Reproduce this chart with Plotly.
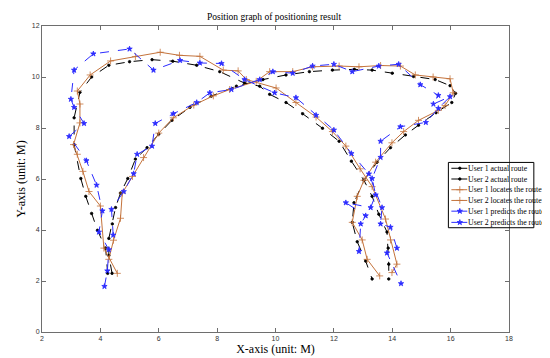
import plotly.graph_objects as go

# ---- data (X, Y in metres) ----
u1_actual_x = [4.25, 4.18, 3.90, 3.70, 3.50, 3.33, 3.10, 3.10, 3.30, 3.70, 4.29, 5.00, 5.77, 6.48, 7.30, 8.09, 8.94, 9.46, 9.80, 10.36, 10.93, 11.61, 12.18, 12.60, 13.03, 13.31, 13.54, 13.82, 13.86, 13.88, 13.88]
u1_actual_y = [2.30, 3.29, 3.99, 4.65, 5.32, 6.02, 7.35, 8.40, 9.40, 10.00, 10.46, 10.60, 10.68, 10.62, 10.46, 10.21, 9.76, 9.64, 9.32, 9.00, 8.56, 7.99, 7.48, 6.70, 5.95, 5.32, 4.62, 3.92, 3.29, 2.66, 2.08]

u2_actual_x = [4.40, 4.29, 4.29, 4.41, 4.52, 4.69, 4.94, 5.20, 5.60, 6.00, 6.45, 7.07, 7.80, 8.66, 9.57, 10.36, 11.16, 11.95, 12.70, 13.31, 14.00, 14.73, 15.47, 15.98, 16.17, 16.04, 15.50, 14.90, 14.45, 13.94, 13.48, 13.03, 12.69, 12.63, 12.80, 13.09, 13.31]
u2_actual_y = [2.30, 3.00, 3.67, 4.24, 4.88, 5.45, 6.02, 6.78, 7.23, 7.76, 8.30, 8.81, 9.25, 9.64, 9.90, 10.08, 10.21, 10.27, 10.30, 10.27, 10.15, 10.02, 9.90, 9.66, 9.36, 9.00, 8.60, 8.11, 7.73, 7.23, 6.66, 5.95, 5.07, 4.30, 3.54, 2.78, 2.08]

u1_locate_x = [4.58, 4.12, 4.00, 3.61, 3.40, 3.21, 3.08, 3.30, 3.30, 3.21, 3.65, 4.35, 5.20, 6.05, 6.71, 7.41, 8.21, 8.72, 9.00, 10.02, 10.70, 11.39, 11.95, 12.41, 12.90, 13.31, 13.77, 13.94, 14.16, 13.99]
u1_locate_y = [2.30, 3.29, 4.94, 5.51, 6.30, 6.97, 7.35, 8.20, 8.94, 9.45, 10.08, 10.63, 10.80, 10.97, 10.85, 10.81, 10.27, 10.24, 9.90, 9.57, 9.00, 8.43, 7.86, 7.29, 6.40, 5.70, 4.43, 3.61, 2.66, 2.33]

u2_locate_x = [4.29, 4.45, 4.69, 4.75, 5.10, 5.48, 6.00, 6.50, 7.20, 7.87, 8.43, 9.34, 9.80, 10.59, 11.27, 12.18, 12.86, 13.60, 14.28, 14.79, 15.40, 15.98, 16.09, 15.81, 15.58, 14.90, 14.39, 13.99, 13.43, 13.03, 12.80, 12.63, 12.97, 13.14, 13.57]
u2_locate_y = [2.85, 3.60, 4.46, 5.45, 6.10, 6.84, 7.80, 8.40, 8.90, 9.26, 9.51, 9.83, 10.21, 10.21, 10.40, 10.43, 10.40, 10.45, 10.43, 10.08, 10.00, 9.93, 9.38, 8.88, 8.69, 8.30, 7.86, 7.42, 6.66, 5.95, 5.32, 4.30, 3.61, 2.85, 2.20]

u1_predict_x = [4.14, 4.24, 4.29, 3.95, 4.07, 3.87, 3.52, 2.93, 3.44, 3.10, 2.99, 3.10, 3.76, 5.00, 5.82, 6.73, 7.41, 8.15, 8.94, 9.97, 10.70, 11.39, 12.00, 12.60, 13.20, 13.65, 13.60, 13.94, 14.16, 13.82, 14.30]
u1_predict_y = [1.79, 2.40, 3.23, 3.92, 4.75, 5.76, 6.72, 7.67, 8.18, 8.81, 9.13, 10.27, 10.91, 11.10, 10.27, 10.65, 10.55, 10.53, 9.90, 9.38, 9.19, 8.50, 7.92, 7.00, 6.20, 4.88, 4.24, 4.11, 3.29, 3.10, 1.90]

u2_predict_x = [4.44, 4.38, 4.80, 5.14, 5.26, 5.77, 5.88, 6.50, 7.30, 7.75, 8.49, 9.46, 9.91, 10.59, 11.27, 12.00, 12.63, 13.54, 14.22, 14.96, 15.58, 15.41, 15.98, 15.58, 15.15, 14.28, 13.60, 13.60, 13.31, 13.43, 13.26, 12.41, 13.09, 12.92, 12.86]
u2_predict_y = [3.80, 4.81, 5.51, 6.21, 6.97, 7.29, 8.18, 8.56, 9.00, 9.38, 9.51, 9.90, 10.21, 10.15, 10.43, 10.50, 10.21, 10.43, 10.50, 9.70, 9.28, 8.94, 9.23, 8.77, 8.22, 8.05, 7.48, 6.85, 6.02, 5.38, 4.88, 5.07, 4.56, 4.24, 3.16]

names = ["User 1 actual route", "User 2 actual route",
         "User 1 locates the route", "User 2 locates the route",
         "User 1 predicts the route", "User 2 predicts the route"]
x_ticks = [2, 4, 6, 8, 10, 12, 14, 16, 18]
y_ticks = [0, 2, 4, 6, 8, 10, 12]

BLACK = "#000000"
ORANGE = "#c4733c"
BLUE = "#2b2bff"

styles = [
    (BLACK, "dash", "circle", 2.5),
    (BLACK, "dash", "circle", 2.5),
    (ORANGE, "solid", "cross-thin-open", 5),
    (ORANGE, "solid", "cross-thin-open", 5),
    (BLUE, "dash", "star", 4),
    (BLUE, "dash", "star", 4),
]
data = [(u1_actual_x, u1_actual_y), (u2_actual_x, u2_actual_y),
        (u1_locate_x, u1_locate_y), (u2_locate_x, u2_locate_y),
        (u1_predict_x, u1_predict_y), (u2_predict_x, u2_predict_y)]

# plot area in pixels
W, H = 550, 358
L, R, T, B = 31, 501, 18, 332


def px(xp):
    return (xp - L) / (R - L)


def py(yp):
    return (B - yp) / (B - T)


fig = go.Figure()
for (xs, ys), (col, dash, sym, sz), nm in zip(data, styles, names):
    fig.add_trace(go.Scatter(
        x=xs, y=ys, mode="lines+markers", name=nm, showlegend=False,
        line=dict(color=col, width=1, dash=dash),
        marker=dict(symbol=sym, size=sz, color=col, line=dict(color=col, width=0.8)),
    ))

# ---- compact legend, drawn on an overlay subplot in paper fractions ----
box_l, box_r, box_t, box_b = 440, 526, 158, 225
row_y = [164, 175, 186, 197, 208, 219.5]
fig.add_trace(go.Scatter(
    x=[px(box_l), px(R), px(R), px(box_l), px(box_l)],
    y=[py(box_t), py(box_t), py(box_b), py(box_b), py(box_t)],
    mode="lines", fill="toself", fillcolor="white", line=dict(width=0),
    xaxis="x2", yaxis="y2", showlegend=False, hoverinfo="skip"))
for (col, dash, sym, sz), ry in zip(styles, row_y):
    fig.add_trace(go.Scatter(
        x=[px(443), px(459)], y=[py(ry), py(ry)], mode="lines",
        line=dict(color=col, width=1), xaxis="x2", yaxis="y2",
        showlegend=False, hoverinfo="skip"))
    fig.add_trace(go.Scatter(
        x=[px(451.5)], y=[py(ry)], mode="markers",
        marker=dict(symbol=sym, size=sz, color=col, line=dict(color=col, width=0.8)),
        xaxis="x2", yaxis="y2", showlegend=False, hoverinfo="skip"))

fig.add_shape(type="rect", xref="paper", yref="paper",
              x0=px(box_l), x1=px(box_r), y0=py(box_b), y1=py(box_t),
              line=dict(color="#000000", width=1), fillcolor="rgba(0,0,0,0)", layer="above")
for nm, ry in zip(names, row_y):
    fig.add_annotation(text=nm, xref="paper", yref="paper", x=px(459), y=py(ry),
                       xanchor="left", yanchor="middle", showarrow=False, borderpad=0,
                       font=dict(family="Liberation Serif", size=7.8, color="#000000"))

axis_common = dict(
    showline=True, linecolor="#6e6e6e", linewidth=1, mirror="ticks",
    ticks="inside", ticklen=4, tickcolor="#6e6e6e",
    showgrid=False, zeroline=False, layer="below traces",
    tickfont=dict(family="Liberation Sans Narrow, Arial Narrow, Liberation Sans", size=7, color="#333333"),
)

fig.update_layout(
    width=W, height=H,
    margin=dict(l=L, r=W - R, t=T, b=H - B),
    paper_bgcolor="white", plot_bgcolor="white",
    title=dict(text="Position graph of positioning result", x=((L + R) / 2) / W, xanchor="center",
               y=1 - 9 / H, yanchor="middle",
               font=dict(family="Liberation Serif", size=9.5, color="#000000")),
    xaxis=dict(range=[2, 18], tickvals=x_ticks, **axis_common,
               title=dict(text="X-axis (unit: M)", standoff=3,
                          font=dict(family="Liberation Serif", size=12, color="#000000"))),
    yaxis=dict(range=[0, 12], tickvals=y_ticks, **axis_common,
               title=dict(text="Y-axis (unit: M)", standoff=3,
                          font=dict(family="Liberation Serif", size=12, color="#000000"))),
    xaxis2=dict(overlaying="x", range=[0, 1], visible=False, fixedrange=True),
    yaxis2=dict(overlaying="y", range=[0, 1], visible=False, fixedrange=True),
    showlegend=False,
)

fig.write_html("out.html")
